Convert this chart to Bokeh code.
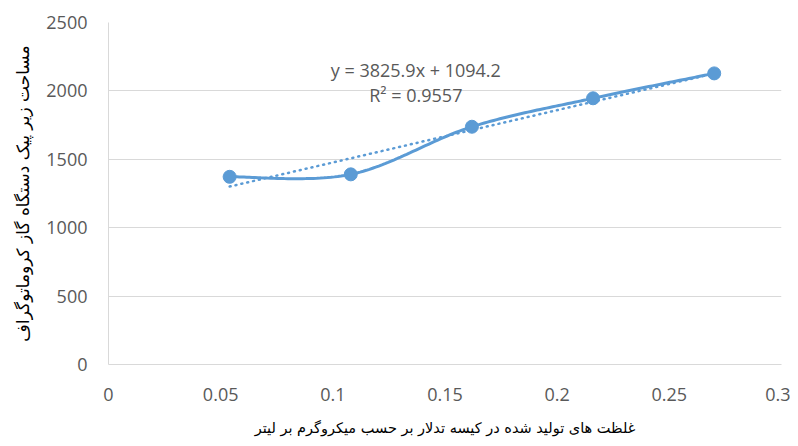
import numpy as np
from bokeh.plotting import figure
from bokeh.models import Label, FixedTicker, Range1d
from bokeh.embed import file_html
from bokeh.resources import INLINE

# data
conc = [0.054, 0.108, 0.162, 0.216, 0.270]
area = [1372, 1390, 1738, 1946, 2128]
slope = 3825.9
intercept = 1094.2
r2 = 0.9557
x_ticks = [0, 0.05, 0.1, 0.15, 0.2, 0.25, 0.3]
y_ticks = [0, 500, 1000, 1500, 2000, 2500]
x_title = "غلظت های تولید شده در کیسه تدلار بر حسب میکروگرم بر لیتر"
y_title = "مساحت زیر پیک دستگاه گاز کروماتوگراف"

BLUE = "#5B9BD5"
GRAY = "#595959"

p = figure(width=790, height=438, output_backend="svg", toolbar_location=None,
           x_range=Range1d(0, 0.3), y_range=Range1d(0, 2500),
           min_border_left=108, min_border_right=9, min_border_top=22, min_border_bottom=72)
p.outline_line_color = None
p.background_fill_color = "white"

# smooth curve (Excel-like cardinal bezier)
xs = np.array(conc, float); ys = np.array(area, float)
sx = 2243.0; sy = 0.1376
px = xs * sx; py = ys * sy
cx, cy = [], []
n = len(px)
for i in range(n - 1):
    p0 = (px[max(i - 1, 0)], py[max(i - 1, 0)])
    p1 = (px[i], py[i]); p2 = (px[i + 1], py[i + 1])
    p3 = (px[min(i + 2, n - 1)], py[min(i + 2, n - 1)])
    c1 = (p1[0] + (p2[0] - p0[0]) / 6, p1[1] + (p2[1] - p0[1]) / 6)
    c2 = (p2[0] - (p3[0] - p1[0]) / 6, p2[1] - (p3[1] - p1[1]) / 6)
    for t in np.linspace(0, 1, 40):
        a = (1 - t) ** 3; b = 3 * (1 - t) ** 2 * t; c = 3 * (1 - t) * t ** 2; d = t ** 3
        cx.append((a * p1[0] + b * c1[0] + c * c2[0] + d * p2[0]) / sx)
        cy.append((a * p1[1] + b * c1[1] + c * c2[1] + d * p2[1]) / sy)

# trendline
tx = [conc[0], conc[-1]]
ty = [slope * v + intercept for v in tx]
p.line(tx, ty, line_color=BLUE, line_width=2.5, line_dash="1 5", line_cap="round")
p.line(cx, cy, line_color=BLUE, line_width=3)
p.scatter(conc, area, size=13, fill_color=BLUE, line_color=BLUE)

p.xgrid.grid_line_color = None
p.ygrid.grid_line_color = "#d9d9d9"
p.ygrid.grid_line_width = 1

p.xaxis.ticker = FixedTicker(ticks=x_ticks)
p.yaxis.ticker = FixedTicker(ticks=y_ticks)
p.xaxis.major_label_overrides = {0: "0", 0.05: "0.05", 0.1: "0.1", 0.15: "0.15", 0.2: "0.2", 0.25: "0.25", 0.3: "0.3"}
for ax in (p.xaxis, p.yaxis):
    ax.axis_line_color = "#d9d9d9"
    ax.major_tick_line_color = None
    ax.minor_tick_line_color = None
    ax.major_label_text_color = GRAY
    ax.major_label_text_font = "Open Sans"
    ax.major_label_text_font_size = "18px"
    ax.axis_label_text_font = "DejaVu Sans"
    ax.axis_label_text_font_style = "normal"
    ax.axis_label_text_color = "#000000"
p.xaxis.axis_label_text_font_size = "14.5px"
p.yaxis.axis_label_text_font_size = "17px"
p.xaxis.major_label_standoff = 17
p.yaxis.major_label_standoff = 15
p.xaxis.axis_label = x_title
p.yaxis.axis_label = y_title
p.xaxis.axis_label_standoff = 16
p.yaxis.axis_label_standoff = 10

p.add_layout(Label(x=0.137, y=2150, text=f"y = {slope}x + {intercept}", text_align="center",
                   text_baseline="middle",
                   text_font="Open Sans", text_font_size="18px", text_color=GRAY))
p.add_layout(Label(x=0.137, y=1970, text=f"R² = {r2}", text_align="center",
                   text_baseline="middle",
                   text_font="Open Sans", text_font_size="18px", text_color=GRAY))

open("out.html", "w").write(file_html(p, INLINE))
